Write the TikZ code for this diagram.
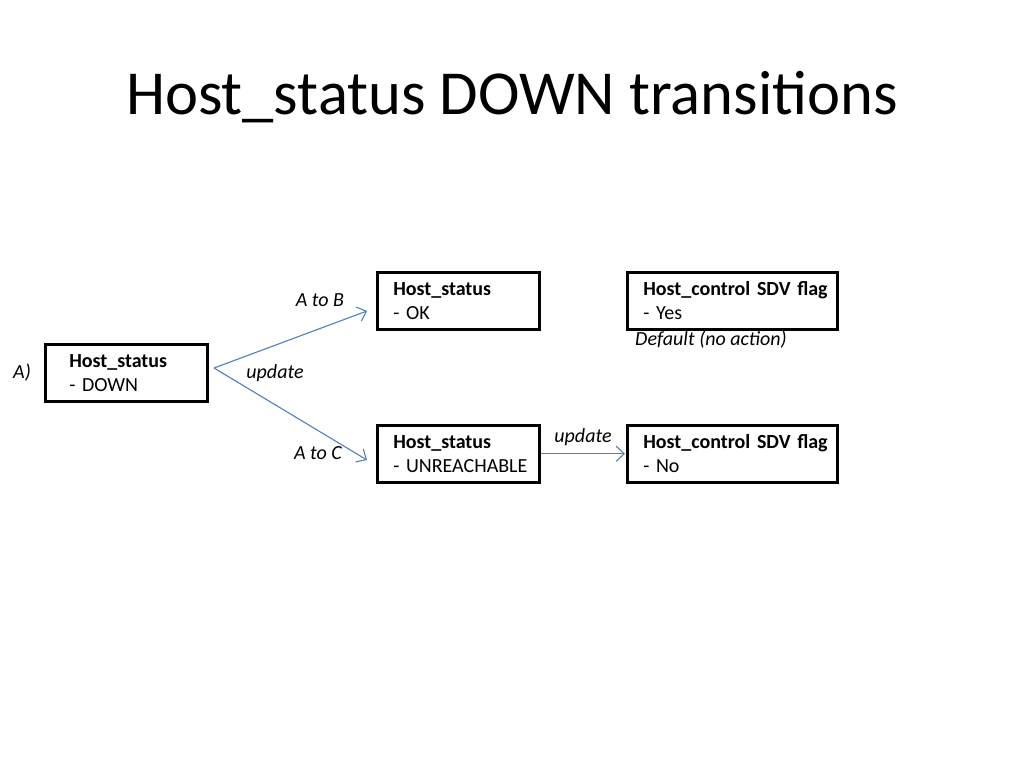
\documentclass[tikz,border=0pt]{standalone}
\usepackage{fontspec}
\setmainfont{Carlito}
\usetikzlibrary{arrows.meta}
\definecolor{arrowblue}{RGB}{79,129,189}
\begin{document}
\begin{tikzpicture}[x=1pt,y=-1pt,
  statebox/.style={draw=black, line width=2.5pt, anchor=north west, align=left,
    inner ysep=0pt, font=\fontsize{20}{24}\selectfont},
  lbl/.style={font=\fontsize{20}{24}\selectfont\itshape, inner sep=0pt},
  conn/.style={draw=arrowblue, line width=1.1pt, -{Straight Barb[length=8pt,width=15pt,line width=1.1pt]}}
]
\useasboundingbox[fill=white] (0,0) rectangle (1024,768);
\node[font=\fontsize{62.6}{70}\selectfont, inner sep=0pt] (title) at (512,97) {Host\_status DOWN transitions};

\node[statebox, inner xsep=24pt, text width=114pt, minimum height=57pt] (A) at (44,343) {\mbox{\textbf{Host\_status}}\\\mbox{- DOWN}};
\node[statebox, inner xsep=16pt, text width=130pt, minimum height=57pt] (B) at (376,271) {\mbox{\textbf{Host\_status}}\\\mbox{- OK}};
\node[statebox, inner xsep=16pt, text width=130pt, minimum height=57pt] (C) at (376,424) {\mbox{\textbf{Host\_status}}\\\mbox{- UNREACHABLE}};
\node[statebox, inner xsep=16pt, text width=178pt, minimum height=57pt] (D) at (626,271) {\mbox{\textbf{Host\_control SDV flag}}\\\mbox{- Yes}};
\node[statebox, inner xsep=16pt, text width=178pt, minimum height=57pt] (E) at (626,424) {\mbox{\textbf{Host\_control SDV flag}}\\\mbox{- No}};

\node[lbl] (lA) at (22,373) {A)};
\node[lbl] (lAB) at (320,300) {A to B};
\node[lbl] (lup1) at (275,373) {update};
\node[lbl] (lAC) at (318,453) {A to C};
\node[lbl] (lup2) at (583,437) {update};
\node[lbl] (ldef) at (711,340) {Default (no action)};

\coordinate (fork) at (214,368);
\coordinate (tipB) at (367,311);
\coordinate (tipC) at (367,460);
\draw[conn] (fork) -- (tipB);
\draw[conn] (fork) -- (tipC);
\draw[conn, shorten >=1pt] (C.east) -- (E.west);
\end{tikzpicture}
\end{document}
